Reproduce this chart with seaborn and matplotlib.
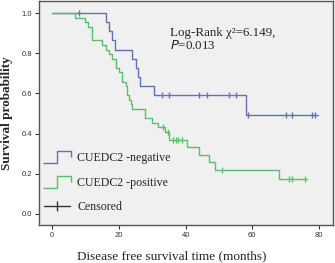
import numpy as np
import pandas as pd
import seaborn as sns
import matplotlib.pyplot as plt
from matplotlib.lines import Line2D
from matplotlib.path import Path

# Kaplan-Meier steps
neg_time = [0, 16, 17, 18, 18.8, 24, 25, 25.7, 26.4, 30.5, 58, 79.6]
neg_surv = [1.0, 0.955, 0.909, 0.864, 0.818, 0.773, 0.727, 0.682, 0.636, 0.591, 0.493, 0.493]
neg_cens_t = [8, 33, 35, 44, 46.3, 53, 55, 58.8, 70, 72, 78, 78.8]
neg_cens_s = [1.0, 0.591, 0.591, 0.591, 0.591, 0.591, 0.591, 0.493, 0.493, 0.493, 0.493, 0.493]

pos_time = [0, 6.8, 9.8, 10.8, 11.8, 14.8, 16, 17, 18, 19, 20, 21, 22, 22.5, 23, 23.5, 24,
            27.8, 29.8, 31.8, 33.8, 35, 40.3, 44, 47, 48.8, 68, 76.3]
pos_surv = [1.0, 0.977, 0.955, 0.932, 0.864, 0.841, 0.818, 0.795, 0.773, 0.727, 0.705, 0.659,
            0.636, 0.591, 0.568, 0.545, 0.523, 0.477, 0.455, 0.432, 0.409, 0.366, 0.332,
            0.295, 0.258, 0.221, 0.175, 0.175]
pos_cens_t = [33.3, 34.6, 36.3, 37.1, 37.8, 39, 51, 71, 71.8, 75.8]
pos_cens_s = [0.432, 0.409, 0.366, 0.366, 0.366, 0.366, 0.221, 0.175, 0.175, 0.175]

labels = ["CUEDC2 -negative", "CUEDC2 -positive", "Censored"]
blue = "#6470b4"
green = "#5cbf6e"

sns.set_style("white")
serif = ["Liberation Serif", "DejaVu Serif"]
plt.rcParams["font.family"] = ["Liberation Sans", "DejaVu Sans"]

fig = plt.figure(figsize=(3.35, 2.63), dpi=100)
ax = fig.add_axes([0.116, 0.144, 0.878, 0.852])
ax.set_facecolor("#f0f0f0")

neg = pd.DataFrame({"t": neg_time, "s": neg_surv})
pos = pd.DataFrame({"t": pos_time, "s": pos_surv})
sns.lineplot(data=neg, x="t", y="s", drawstyle="steps-post", color=blue, lw=1.0,
             estimator=None, sort=False, ax=ax)
sns.lineplot(data=pos, x="t", y="s", drawstyle="steps-post", color=green, lw=1.0,
             estimator=None, sort=False, ax=ax)
ax.plot(neg_cens_t, neg_cens_s, ls="none", marker="|", ms=4.5, mew=1.0, color=blue)
ax.plot(pos_cens_t, pos_cens_s, ls="none", marker="|", ms=4.5, mew=1.0, color=green)

ax.set_xlim(-4, 84.2)
ax.set_ylim(-0.056, 1.06)
ax.set_xticks([0, 20, 40, 60, 80])
ax.set_yticks([0.0, 0.2, 0.4, 0.6, 0.8, 1.0])
ax.set_yticklabels(["0.0", "0.2", "0.4", "0.6", "0.8", "1.0"])
ax.tick_params(axis="both", direction="out", length=3, width=0.8, colors="#333333",
               labelsize=5.5, pad=2, bottom=True, left=True)
for sp in ax.spines.values():
    sp.set_color("#555555")
    sp.set_linewidth(1.0)

ax.set_xlabel("Disease free survival time (months)", family=serif, fontsize=9.5, labelpad=8)
ax.xaxis.label.set_x(0.452)
ax.set_ylabel("Survival probability", family=serif, fontsize=9.5, fontweight="bold", labelpad=6)

ax.text(35.3, 0.9, "Log-Rank \u03c7\u00b2=6.149,", family=serif, fontsize=9.4, va="center")
ax.text(35.3, 0.837, "$\\it{P}$=0.013", family=serif, fontsize=9.4, va="center")

step = Path([(-1, -0.4), (0, -0.4), (0, 0.4), (1, 0.4), (1, 0.0)],
            [Path.MOVETO, Path.LINETO, Path.LINETO, Path.LINETO, Path.LINETO])
handles = [
    Line2D([], [], ls="none", marker=step, ms=20, mfc="none", mec=blue, mew=1.0),
    Line2D([], [], ls="none", marker=step, ms=20, mfc="none", mec=green, mew=1.0),
    Line2D([], [], color="#333333", lw=1.0, marker="|", ms=7, mew=1.0),
]
leg = ax.legend(handles, labels, loc="lower left", bbox_to_anchor=(-0.008, 0.02), frameon=False,
                prop={"family": serif, "size": 8.6}, handlelength=2.2, handletextpad=0.6,
                labelspacing=1.05, numpoints=1, borderaxespad=0.2)

fig.savefig("out.png", dpi=100)
